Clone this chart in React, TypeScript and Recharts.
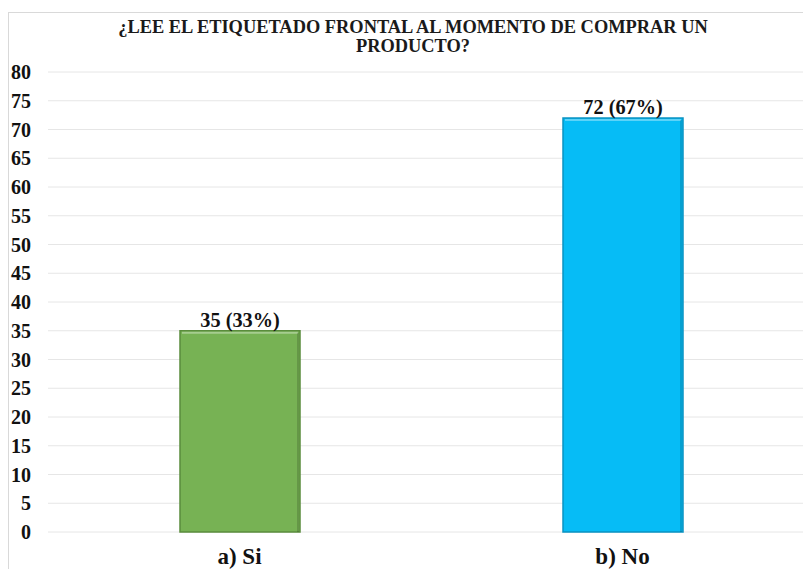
import { Bar, BarChart, CartesianGrid, Cell, LabelList, XAxis, YAxis } from "recharts";

const categories = ["a) Si", "b) No"];
const counts = [35, 72];
const percents = ["33%", "67%"];
const barColors = ["#77B254", "#06BCF6"];
const barEdges = ["#5A8C3C", "#0A93C2"];
const yTicks = [0, 5, 10, 15, 20, 25, 30, 35, 40, 45, 50, 55, 60, 65, 70, 75, 80];
const titleLines = ["¿LEE EL ETIQUETADO FRONTAL AL MOMENTO DE COMPRAR UN", "PRODUCTO?"];

const FONT = '"Times New Roman"';

const data = categories.map((name, i) => ({
  name,
  value: counts[i],
  label: `${counts[i]} (${percents[i]})`,
}));

// bevelled bar, like the office chart style
function BevelBar(props: any) {
  const { x, y, width, height, index } = props;
  if (height <= 0) return null;
  const fill = barColors[index];
  const edge = barEdges[index];
  return (
    <g>
      <rect x={x} y={y} width={width} height={height} fill={fill} stroke={edge} strokeWidth={1.5} />
      <line x1={x + 2} y1={y + 2} x2={x + width - 2} y2={y + 2} stroke="#ffffff" strokeOpacity={0.35} strokeWidth={2} />
      <line x1={x + width - 2} y1={y + 2} x2={x + width - 2} y2={y + height} stroke="#000000" strokeOpacity={0.15} strokeWidth={2} />
    </g>
  );
}

export default function App() {
  return (
    <div style={{ position: "absolute", left: 0, top: 0, width: 803, height: 569, overflow: "hidden", background: "#fff", fontFamily: FONT }}>
      <div
        style={{
          position: "absolute",
          left: 8,
          top: 12,
          width: 830,
          height: 600,
          borderLeft: "1px solid #d9d9d9",
          borderTop: "1px solid #d9d9d9",
        }}
      />
      <div
        style={{
          position: "absolute",
          left: 0,
          top: 18,
          width: 826,
          textAlign: "center",
          fontFamily: FONT,
          fontWeight: "bold",
          fontSize: 18.4,
          lineHeight: "18.5px",
          color: "#1a1a1a",
        }}
      >
        {titleLines.map((t) => (
          <div key={t}>{t}</div>
        ))}
      </div>
      <div style={{ position: "absolute", left: 0, top: 0 }}>
        <BarChart
          width={814}
          height={569}
          data={data}
          margin={{ top: 72, right: 0, left: 0, bottom: 0 }}
          barSize={120}
          style={{ fontFamily: FONT }}
        >
          <CartesianGrid horizontal vertical={false} stroke="#e6e6e6" />
          <XAxis
            dataKey="name"
            axisLine={false}
            tickLine={false}
            height={37}
            tickMargin={10}
            tick={{ fill: "#111", fontSize: 23, fontWeight: "bold", fontFamily: FONT }}
          />
          <YAxis
            domain={[0, 80]}
            ticks={yTicks}
            interval={0}
            axisLine={false}
            tickLine={false}
            width={48}
            tickMargin={11}
            tick={{ fill: "#111", fontSize: 20, fontWeight: "bold", fontFamily: FONT }}
          />
          <Bar dataKey="value" shape={BevelBar} isAnimationActive={false}>
            {data.map((d, i) => (
              <Cell key={d.name} fill={barColors[i]} />
            ))}
            <LabelList
              dataKey="label"
              position="top"
              offset={4}
              style={{ fill: "#111", fontSize: 20.3, fontWeight: "bold", fontFamily: FONT }}
            />
          </Bar>
        </BarChart>
      </div>
    </div>
  );
}
